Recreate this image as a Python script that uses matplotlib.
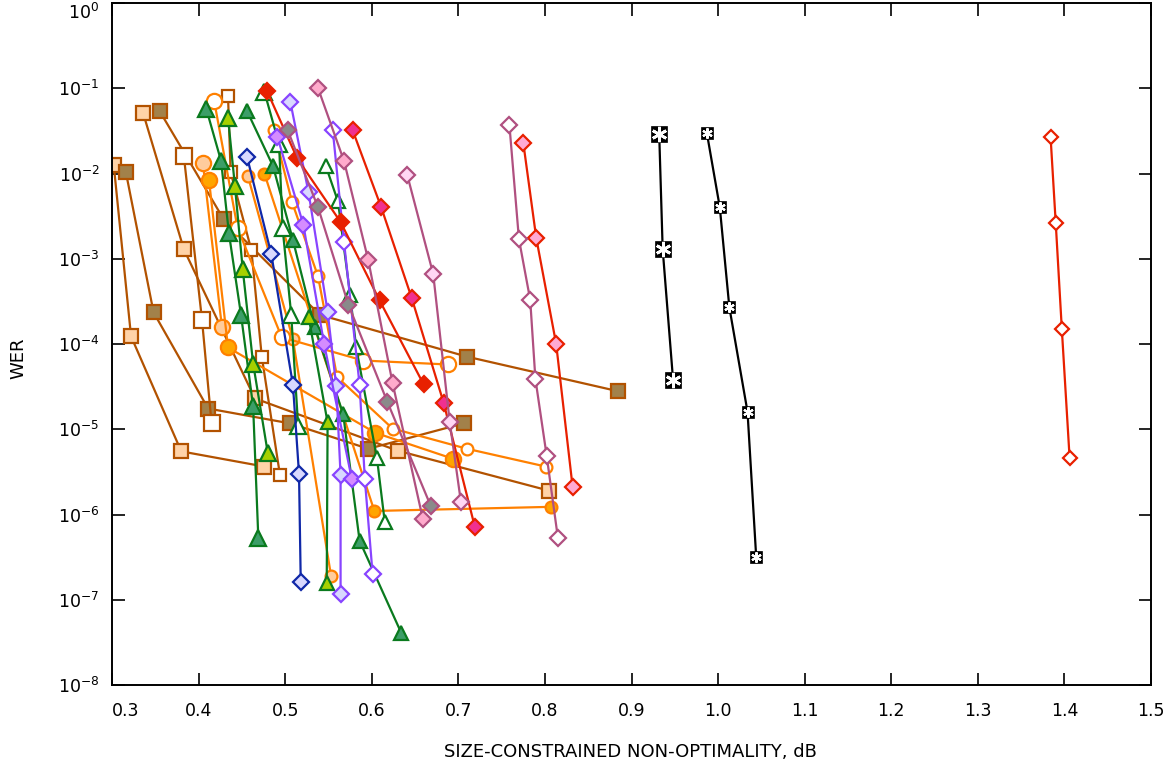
import matplotlib
matplotlib.use("Agg")
import matplotlib.pyplot as plt
from matplotlib.ticker import FixedLocator, FixedFormatter

plt.rcParams['font.family'] = ['DejaVu Sans']
plt.rcParams['mathtext.fontset'] = 'dejavusans'
plt.rcParams['mathtext.default'] = 'regular'

# ---------------- data (x: non-optimality in dB, y: WER) ----------------
sq_peach1_x = [0.336, 0.383, 0.465, 0.630, 0.805]
sq_peach1_y = [5.1e-2, 1.29e-3, 2.3e-5, 5.6e-6, 1.9e-6]
sq_peach2_x = [0.302, 0.322, 0.380, 0.476]
sq_peach2_y = [1.26e-2, 1.23e-4, 5.5e-6, 3.65e-6]
sq_dark1_x = [0.316, 0.348, 0.411, 0.506, 0.596, 0.706]
sq_dark1_y = [1.04e-2, 2.35e-4, 1.75e-5, 1.17e-5, 5.9e-6, 1.17e-5]
sq_dark2_x = [0.355, 0.429, 0.540, 0.710, 0.884]
sq_dark2_y = [5.4e-2, 2.9e-3, 2.2e-4, 7.1e-5, 2.8e-5]
sq_white1_x = [0.383, 0.404, 0.415]
sq_white1_y = [1.6e-2, 1.9e-4, 1.17e-5]
sq_white2_x = [0.434, 0.437, 0.461, 0.473, 0.494]
sq_white2_y = [8.1e-2, 1.04e-2, 1.26e-3, 7.1e-5, 2.9e-6]

ci_peachA_x = [0.405, 0.427]
ci_peachA_y = [1.32e-2, 1.57e-4]
ci_peachB_x = [0.457, 0.509, 0.553]
ci_peachB_y = [9.3e-3, 1.13e-4, 1.9e-7]
ci_orangeA_x = [0.412, 0.434, 0.604, 0.694]
ci_orangeA_y = [8.4e-3, 9.1e-5, 9.1e-6, 4.5e-6]
ci_orangeB_x = [0.476, 0.603, 0.807]
ci_orangeB_y = [1.0e-2, 1.1e-6, 1.23e-6]
ci_openA_x = [0.418, 0.445, 0.496, 0.590, 0.688]
ci_openA_y = [7.1e-2, 2.3e-3, 1.2e-4, 6.4e-5, 5.75e-5]
ci_openB_x = [0.487, 0.508, 0.538, 0.560, 0.624, 0.710, 0.801]
ci_openB_y = [3.2e-2, 4.6e-3, 6.2e-4, 4.1e-5, 1.02e-5, 5.9e-6, 3.65e-6]

tr_green1_x = [0.409, 0.426, 0.435, 0.449, 0.463, 0.469]
tr_green1_y = [5.7e-2, 1.4e-2, 2.0e-3, 2.2e-4, 1.85e-5, 5.3e-7]
tr_green2_x = [0.456, 0.486, 0.509, 0.534, 0.567, 0.586, 0.634]
tr_green2_y = [5.4e-2, 1.22e-2, 1.65e-3, 1.6e-4, 1.5e-5, 4.9e-7, 4.1e-8]
tr_lime1_x = [0.434, 0.442, 0.451, 0.463, 0.480]
tr_lime1_y = [4.5e-2, 7.1e-3, 7.5e-4, 5.9e-5, 5.2e-6]
tr_lime2_x = [0.527, 0.549, 0.548]
tr_lime2_y = [2.1e-4, 1.2e-5, 1.58e-7]
tr_open1_x = [0.476, 0.493, 0.497, 0.507, 0.515]
tr_open1_y = [9.1e-2, 2.2e-2, 2.3e-3, 2.2e-4, 1.08e-5]
tr_open2_x = [0.547, 0.561, 0.575, 0.582, 0.606, 0.615]
tr_open2_y = [1.22e-2, 4.7e-3, 3.8e-4, 9.1e-5, 4.6e-6, 8.2e-7]

di_blue_x = [0.456, 0.484, 0.509, 0.516, 0.518]
di_blue_y = [1.56e-2, 1.13e-3, 3.3e-5, 3.0e-6, 1.6e-7]
di_lav_x = [0.506, 0.527, 0.549, 0.559, 0.564, 0.564]
di_lav_y = [6.9e-2, 6.0e-3, 2.4e-4, 3.2e-5, 2.9e-6, 1.17e-7]
di_purple_x = [0.491, 0.521, 0.545, 0.577]
di_purple_y = [2.7e-2, 2.5e-3, 1.0e-4, 2.6e-6]
di_pwhite_x = [0.555, 0.568, 0.586, 0.592, 0.601]
di_pwhite_y = [3.2e-2, 1.56e-3, 3.3e-5, 2.6e-6, 2.0e-7]

di_red_x = [0.479, 0.514, 0.564, 0.609, 0.660]
di_red_y = [9.3e-2, 1.5e-2, 2.7e-3, 3.25e-4, 3.35e-5]
di_magenta_x = [0.578, 0.611, 0.646, 0.683, 0.719]
di_magenta_y = [3.2e-2, 4.0e-3, 3.5e-4, 2.05e-5, 7.2e-7]
di_redpink_x = [0.775, 0.790, 0.813, 0.832]
di_redpink_y = [2.3e-2, 1.75e-3, 1.0e-4, 2.1e-6]
di_redopen_x = [1.384, 1.390, 1.397, 1.406]
di_redopen_y = [2.7e-2, 2.6e-3, 1.5e-4, 4.6e-6]

di_gray_x = [0.503, 0.538, 0.573, 0.618, 0.668]
di_gray_y = [3.2e-2, 4.0e-3, 2.9e-4, 2.1e-5, 1.27e-6]
di_mpink_x = [0.538, 0.568, 0.596, 0.624, 0.659]
di_mpink_y = [1.0e-1, 1.4e-2, 9.6e-4, 3.5e-5, 8.9e-7]
di_lpink_x = [0.641, 0.671, 0.690, 0.703]
di_lpink_y = [9.6e-3, 6.6e-4, 1.23e-5, 1.4e-6]
di_mopen_x = [0.759, 0.770, 0.783, 0.789, 0.802, 0.815]
di_mopen_y = [3.7e-2, 1.7e-3, 3.3e-4, 3.9e-5, 4.9e-6, 5.3e-7]

bx_big_x = [0.932, 0.936, 0.948]
bx_big_y = [2.9e-2, 1.3e-3, 3.8e-5]
bx_small_x = [0.987, 1.002, 1.013, 1.034, 1.044]
bx_small_y = [3.0e-2, 4.0e-3, 2.7e-4, 1.6e-5, 3.2e-7]

x_ticks = [0.3, 0.4, 0.5, 0.6, 0.7, 0.8, 0.9, 1.0, 1.1, 1.2, 1.3, 1.4, 1.5]
x_tick_labels = ['0.3', '0.4', '0.5', '0.6', '0.7', '0.8', '0.9', '1.0', '1.1', '1.2', '1.3', '1.4', '1.5']
y_exponents = [-8, -7, -6, -5, -4, -3, -2, -1, 0]

# ---------------- styles ----------------
BROWN = '#b25200'
ORANGE = '#ff8000'
GREEN = '#0a7a1e'
BLUE = '#1028a8'
PURPLE = '#8844ff'
RED = '#e82000'
MAUVE = '#b05080'

fig = plt.figure(figsize=(11.64, 7.69), dpi=100)
ax = fig.add_axes([112 / 1164, 84 / 769, (1151 - 112) / 1164, (685 - 3) / 769])

lw = 1.6
mew = 1.6


def draw(x, y, color, marker, mfc, ms, mec=None, z=2):
    ax.plot(x, y, color=color, lw=lw, marker=marker, mfc=mfc,
            mec=mec if mec else color, ms=ms, mew=mew, zorder=z)


# squares (brown)
draw(sq_peach1_x, sq_peach1_y, BROWN, 's', '#ffd3a8', 9.5)
draw(sq_peach2_x, sq_peach2_y, BROWN, 's', '#ffd3a8', 10.5)
draw(sq_dark1_x, sq_dark1_y, BROWN, 's', '#a2814a', 10.5)
draw(sq_dark2_x, sq_dark2_y, BROWN, 's', '#a2814a', 9.5)
draw(sq_white1_x, sq_white1_y, BROWN, 's', 'white', 11)
draw(sq_white2_x, sq_white2_y, BROWN, 's', 'white', 8.5)

# circles (orange)
draw(ci_peachA_x, ci_peachA_y, ORANGE, 'o', '#ffcc9c', 11)
draw(ci_peachB_x, ci_peachB_y, ORANGE, 'o', '#ffcc9c', 8.5)
draw(ci_orangeA_x, ci_orangeA_y, ORANGE, 'o', '#ffa500', 11)
draw(ci_orangeB_x, ci_orangeB_y, ORANGE, 'o', '#ffa500', 8.5)
draw(ci_openA_x, ci_openA_y, ORANGE, 'o', 'white', 11)
draw(ci_openB_x, ci_openB_y, ORANGE, 'o', 'white', 8.5)

# triangles (green)
draw(tr_green1_x, tr_green1_y, GREEN, '^', '#3c9e68', 11.5)
draw(tr_green2_x, tr_green2_y, GREEN, '^', '#3c9e68', 9.5)
draw(tr_lime1_x, tr_lime1_y, GREEN, '^', '#a6d000', 11.5)
draw(tr_lime2_x, tr_lime2_y, GREEN, '^', '#a6d000', 9.5)
draw(tr_open1_x, tr_open1_y, GREEN, '^', 'white', 11.5)
draw(tr_open2_x, tr_open2_y, GREEN, '^', 'white', 9.5)

# diamonds (blue / purple)
draw(di_blue_x, di_blue_y, BLUE, 'D', '#d8d8ff', 8)
draw(di_lav_x, di_lav_y, PURPLE, 'D', '#d8d8ff', 8)
draw(di_purple_x, di_purple_y, PURPLE, 'D', '#d58cff', 8)
draw(di_pwhite_x, di_pwhite_y, PURPLE, 'D', 'white', 8)

# diamonds (red)
draw(di_red_x, di_red_y, RED, 'D', RED, 8)
draw(di_magenta_x, di_magenta_y, RED, 'D', '#f03090', 8)
draw(di_redpink_x, di_redpink_y, RED, 'D', '#ffaad4', 8)
draw(di_redopen_x, di_redopen_y, RED, 'D', 'white', 7)

# diamonds (mauve)
draw(di_gray_x, di_gray_y, MAUVE, 'D', '#8a8a8a', 8)
draw(di_mpink_x, di_mpink_y, MAUVE, 'D', '#ffaacc', 8)
draw(di_lpink_x, di_lpink_y, MAUVE, 'D', '#ffd6f4', 8)
draw(di_mopen_x, di_mopen_y, MAUVE, 'D', 'white', 8)

# black boxed crosses
ax.plot(bx_big_x, bx_big_y, color='black', lw=lw, marker='s', ms=12,
        mfc='black', mec='black', mew=0.5, zorder=3)
ax.plot(bx_big_x, bx_big_y, ls='none', marker=(6, 2, 0), ms=11, mec='white',
        mew=2.0, zorder=4)
ax.plot(bx_small_x, bx_small_y, color='black', lw=lw, marker='s', ms=8,
        mfc='black', mec='black', mew=0.5, zorder=3)
ax.plot(bx_small_x, bx_small_y, ls='none', marker=(6, 2, 0), ms=7.5, mec='white',
        mew=1.5, zorder=4)

# ---------------- axes ----------------
ax.set_yscale('log')
ax.set_xlim(0.3, 1.5)
ax.set_ylim(1e-8, 1e0)

ax.xaxis.set_major_locator(FixedLocator(x_ticks))
ax.xaxis.set_major_formatter(FixedFormatter(x_tick_labels))
ax.xaxis.set_minor_locator(FixedLocator([]))
y_ticks = [10.0 ** e for e in y_exponents]
ax.yaxis.set_major_locator(FixedLocator(y_ticks))
ax.yaxis.set_major_formatter(FixedFormatter([r'$10^{%d}$' % e for e in y_exponents]))
ax.yaxis.set_minor_locator(FixedLocator([]))

ax.tick_params(axis='both', which='major', direction='in', length=9, width=1.2,
               top=True, right=True, labelsize=12.5, color='black')
ax.tick_params(axis='x', pad=12)
ax.tick_params(axis='y', pad=9)
for sp in ax.spines.values():
    sp.set_linewidth(1.4)

xl = ax.get_xticklabels()
xl[0].set_ha('left')
yl = ax.get_yticklabels()
yl[-1].set_va('top')

fig.text(630 / 1164, 1 - 752 / 769, 'SIZE-CONSTRAINED NON-OPTIMALITY, dB',
         ha='center', va='center', fontsize=13)
fig.text(18 / 1164, 1 - 358 / 769, 'WER', rotation=90, ha='center',
         va='center', fontsize=13)

fig.savefig('out.png', dpi=100)
